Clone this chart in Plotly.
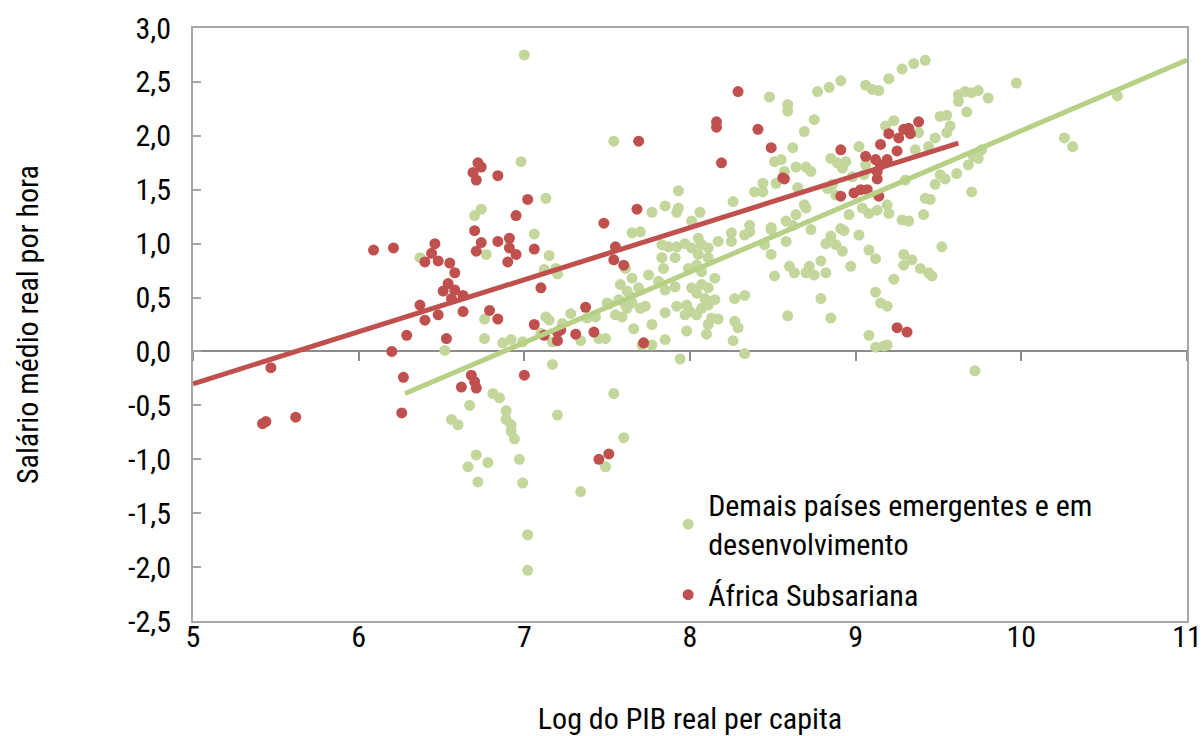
import numpy as np
import plotly.graph_objects as go

# ---- data ----
green_x = [7.00, 7.54, 6.98, 7.13, 6.74, 6.70, 7.93, 7.85, 7.77, 7.93, 7.92, 8.01,
           9.42, 9.35, 9.28, 9.20, 8.91, 8.84, 8.77, 9.06, 9.10, 9.14, 8.48, 8.59, 8.59, 8.75, 8.69, 8.62,
           8.55, 8.51, 8.64, 8.70, 8.73, 8.57, 8.52, 8.44, 8.39, 8.44, 8.26, 8.06, 8.36, 8.49, 8.69, 8.70,
           8.65, 8.85, 8.89, 8.94, 8.92, 9.02, 9.18, 9.23, 9.38, 9.06, 9.05, 8.98, 8.86, 8.88, 8.96, 9.04,
           9.08, 9.13, 9.19, 9.20, 9.28, 9.32, 9.41, 9.42, 9.45, 9.48, 9.51, 9.30, 9.51, 9.48, 9.44, 9.36,
           8.83, 8.91, 8.64, 8.58, 8.62,
           9.97, 9.62, 9.66, 9.74, 9.70, 9.62, 9.80, 10.58, 9.67, 9.55, 9.57, 9.55, 10.26, 10.31, 9.76,
           9.71, 9.68, 9.74, 9.61, 9.70, 9.54,
           6.37, 6.52,
           6.77, 7.06, 7.15, 7.12, 7.19, 7.20, 6.76, 6.76, 6.87, 6.92, 6.99, 7.13, 7.15, 7.10, 7.17, 7.23,
           7.28, 7.34, 7.38, 7.43, 7.49, 7.45, 7.51, 7.55, 7.59, 7.62, 7.66, 7.70, 7.73, 7.77, 7.71, 7.77,
           7.85, 7.85, 7.92, 7.98, 8.00, 7.97, 7.98, 7.94, 7.17, 6.81, 6.85, 6.67, 6.89, 6.89, 7.54, 7.20,
           6.56, 6.60, 6.92, 7.65, 7.70, 7.83, 7.87, 7.92, 7.97, 8.01, 7.83, 7.91, 7.84, 7.99, 7.65, 7.58,
           7.62, 7.69, 7.75, 7.81, 7.85, 7.91, 8.01, 7.65, 7.57, 7.64, 7.50, 7.61, 7.61,
           8.05, 8.07, 8.11, 8.05, 8.11, 8.04, 8.07, 8.15, 8.07, 8.11, 8.04, 8.09, 8.15, 8.11, 8.07, 8.04,
           8.13, 8.17, 8.11, 8.10, 8.27, 8.29, 8.26, 8.27, 8.33, 8.33, 8.17, 8.25, 8.25, 8.33, 8.36, 8.49,
           8.58, 8.45, 8.49, 8.51, 8.60, 8.63, 8.72, 8.70, 8.75, 8.79, 8.82, 8.73, 8.85, 8.82, 8.88, 8.92,
           9.02, 8.93, 8.97, 9.08, 9.12, 9.23, 9.12, 9.15, 9.19, 8.79, 8.85, 8.59, 9.29, 9.34, 9.29, 9.39,
           9.44, 9.46, 9.52, 9.08, 9.12, 9.17, 9.19,
           9.72,
           6.92, 6.94, 6.71, 6.66, 6.78, 6.72, 6.97, 6.99, 7.02, 7.02, 7.34, 7.49, 7.60]
green_y = [2.75, 1.95, 1.76, 1.42, 1.32, 1.26, 1.49, 1.35, 1.29, 1.33, 1.29, 1.21,
           2.70, 2.67, 2.62, 2.53, 2.51, 2.45, 2.41, 2.47, 2.43, 2.42, 2.36, 2.29, 2.23, 2.15, 2.04, 1.89,
           1.78, 1.76, 1.71, 1.71, 1.67, 1.67, 1.56, 1.56, 1.48, 1.48, 1.39, 1.29, 1.17, 1.15, 1.36, 1.33,
           1.52, 1.79, 1.75, 1.76, 1.70, 1.90, 2.09, 2.14, 2.03, 1.73, 1.64, 1.62, 1.55, 1.45, 1.27, 1.33,
           1.28, 1.31, 1.36, 1.28, 1.22, 1.21, 1.27, 1.42, 1.41, 1.55, 1.64, 1.59, 2.18, 1.98, 1.90, 1.87,
           1.51, 1.14, 1.27, 1.21, 1.17,
           2.49, 2.38, 2.41, 2.42, 2.40, 2.32, 2.35, 2.37, 2.22, 2.19, 2.09, 2.03, 1.98, 1.90, 1.87,
           1.81, 1.73, 1.79, 1.65, 1.48, 1.60,
           0.87, 0.01,
           0.90, 1.09, 0.89, 0.76, 0.77, 0.72, 0.30, 0.12, 0.08, 0.11, 0.09, 0.32, 0.29, 0.17, 0.09, 0.26,
           0.35, 0.10, 0.31, 0.32, 0.12, 0.12, 0.44, 0.34, 0.32, 0.40, 0.21, 0.40, 0.42, 0.25, 0.06, 0.06,
           0.11, 0.36, 0.42, 0.43, 0.37, 0.34, 0.19, -0.07, -0.12, -0.39, -0.43, -0.50, -0.55, -0.63, -0.39, -0.59,
           -0.63, -0.68, -0.68, 1.10, 1.11, 0.99, 0.97, 0.97, 1.00, 0.96, 0.87, 0.87, 0.77, 0.77, 0.68, 0.62,
           0.56, 0.59, 0.71, 0.65, 0.57, 0.60, 0.59, 0.45, 0.48, 0.51, 0.45, 0.43, 0.77,
           1.05, 0.99, 0.96, 0.90, 0.87, 0.80, 0.74, 0.68, 0.62, 0.59, 0.54, 0.49, 0.48, 0.43, 0.40, 0.34,
           0.31, 0.30, 0.25, 0.16, 0.28, 0.22, 0.10, 0.49, 0.52, -0.02, 1.02, 1.02, 1.10, 1.08, 1.11, 1.13,
           1.02, 0.99, 0.90, 0.70, 0.79, 0.73, 0.79, 0.73, 0.71, 0.84, 0.73, 1.13, 1.07, 1.00, 0.99, 0.93,
           1.08, 1.12, 0.79, 0.94, 0.86, 0.67, 0.55, 0.45, 0.42, 0.49, 0.31, 0.33, 0.90, 0.85, 0.80, 0.77,
           0.73, 0.70, 0.97, 0.15, 0.04, 0.05, 0.06,
           -0.18,
           -0.74, -0.81, -0.96, -1.07, -1.03, -1.21, -1.00, -1.22, -1.70, -2.03, -1.30, -1.07, -0.80]

red_x = [7.69, 6.72, 6.74, 6.69, 6.71, 6.84, 7.02, 6.95, 7.48, 7.68,
         8.29, 8.16, 8.16, 8.41, 8.49, 8.19, 8.56, 8.57, 8.91, 9.20, 9.26, 9.29, 9.32, 9.33, 9.38,
         9.15, 9.25, 9.06, 9.12, 9.19, 9.15, 9.13, 9.13, 8.91, 8.99, 9.03, 9.07, 9.14,
         6.09, 6.21, 6.46, 6.44, 6.40, 6.48, 6.51, 6.37, 6.40, 6.48, 6.29, 6.20, 6.27, 5.47, 6.26,
         5.62, 5.42, 5.44, 6.53,
         6.70, 6.74, 6.71, 6.84, 6.91, 6.91, 6.95, 6.90, 7.06, 6.55, 6.58, 6.54, 6.58, 6.63, 6.56,
         7.10, 6.63, 6.79, 6.84, 7.06, 7.12, 7.20, 7.22, 7.20, 7.31, 7.37, 7.42, 7.72, 7.00, 6.68,
         6.70, 6.71, 6.62, 7.55, 7.54, 7.60,
         9.25, 9.31, 7.45, 7.51]
red_y = [1.95, 1.75, 1.71, 1.66, 1.59, 1.63, 1.41, 1.26, 1.19, 1.32,
         2.41, 2.13, 2.08, 2.06, 1.89, 1.75, 1.61, 1.60, 1.87, 2.02, 1.98, 2.06, 2.07, 2.02, 2.13,
         1.92, 1.86, 1.81, 1.78, 1.78, 1.73, 1.67, 1.60, 1.44, 1.47, 1.50, 1.50, 1.44,
         0.94, 0.96, 1.00, 0.91, 0.83, 0.84, 0.56, 0.43, 0.29, 0.34, 0.15, 0.00, -0.24, -0.15, -0.57,
         -0.61, -0.67, -0.65, 0.12,
         1.12, 1.01, 0.93, 1.02, 1.05, 0.96, 0.90, 0.83, 0.95, 0.82, 0.73, 0.63, 0.57, 0.52, 0.49,
         0.59, 0.37, 0.38, 0.30, 0.25, 0.15, 0.18, 0.20, 0.10, 0.16, 0.41, 0.18, 0.08, -0.22, -0.22,
         -0.28, -0.34, -0.33, 0.97, 0.85, 0.80,
         0.22, 0.18, -1.00, -0.95]

# linear trends: slope, intercept and x-span of each fitted line
green_trend = {"slope": 0.655, "intercept": -4.503, "x_span": [6.28, 11.0]}
red_trend = {"slope": 0.483, "intercept": -2.715, "x_span": [5.0, 9.62]}

y_tick_values = [-2.5, -2.0, -1.5, -1.0, -0.5, 0.0, 0.5, 1.0, 1.5, 2.0, 2.5, 3.0]
y_tick_labels = ["-2,5", "-2,0", "-1,5", "-1,0", "-0,5", "0,0", "0,5", "1,0", "1,5", "2,0", "2,5", "3,0"]
x_tick_values = [5, 6, 7, 8, 9, 10, 11]
x_tick_labels = ["5", "6", "7", "8", "9", "10", "11"]

green_name = "Demais países emergentes e em<br>desenvolvimento"
red_name = "África Subsariana"
x_title = "Log do PIB real per capita"
y_title = "Salário médio real por hora"

GREEN = "#C3D69B"
GREEN_LINE = "#B6D085"
RED = "#C0504D"
AXIS = "#A6A6A6"
FONT = "Roboto Condensed, Noto Sans Condensed, Liberation Sans, sans-serif"
FS = 30

fig = go.Figure()
fig.add_trace(go.Scatter(x=green_x, y=green_y, mode="markers", name=green_name, legendgroup="g",
                         marker=dict(color=GREEN, size=11)))
fig.add_trace(go.Scatter(x=red_x, y=red_y, mode="markers", name=red_name, legendgroup="r",
                         marker=dict(color=RED, size=11)))
for tr, col in ((green_trend, GREEN_LINE), (red_trend, RED)):
    xs = np.array(tr["x_span"])
    ys = tr["slope"] * xs + tr["intercept"]
    fig.add_trace(go.Scatter(x=xs, y=ys, mode="lines", showlegend=False, hoverinfo="skip",
                             xaxis="x2", line=dict(color=col, width=5)))

fig.update_layout(
    width=1201, height=736,
    margin=dict(l=193, r=14, t=28, b=115, autoexpand=False),
    paper_bgcolor="white", plot_bgcolor="white",
    font=dict(family=FONT, size=FS, color="black"),
    showlegend=True,
    legend=dict(x=0.478, y=0.24, xanchor="left", yanchor="top", bgcolor="rgba(0,0,0,0)",
                font=dict(family=FONT, size=FS), itemwidth=30, traceorder="grouped",
                tracegroupgap=9),
    xaxis=dict(range=[5, 11], tickvals=x_tick_values, ticktext=x_tick_labels, showgrid=False,
               zeroline=False, showline=True, mirror=True, linecolor=AXIS, linewidth=2, ticks="",
               ticklabelstandoff=-12, ticklabeloverflow="allow",
               title=dict(text=x_title, standoff=55, font=dict(family=FONT, size=FS))),
    xaxis2=dict(overlaying="x", matches="x", anchor="free", position=2.5 / 5.5,
                showline=True, linecolor="#8C8C8C", linewidth=2, ticks="outside", ticklen=9,
                tickcolor="#8C8C8C", tickwidth=2, showticklabels=False, showgrid=False,
                zeroline=False, tickvals=x_tick_values, layer="below traces"),
    yaxis=dict(range=[-2.5, 3.0], tickvals=y_tick_values, ticktext=y_tick_labels, showgrid=False,
               zeroline=False, showline=True, mirror=True, linecolor=AXIS, linewidth=2,
               ticks="inside", ticklen=8, tickcolor=AXIS, tickwidth=2, ticklabelstandoff=14,
               ticklabeloverflow="allow",
               title=dict(text=y_title, standoff=81, font=dict(family=FONT, size=FS))),
)
fig.write_html("out.html", config={"displayModeBar": False},
               post_script="document.body.style.margin='0';")
